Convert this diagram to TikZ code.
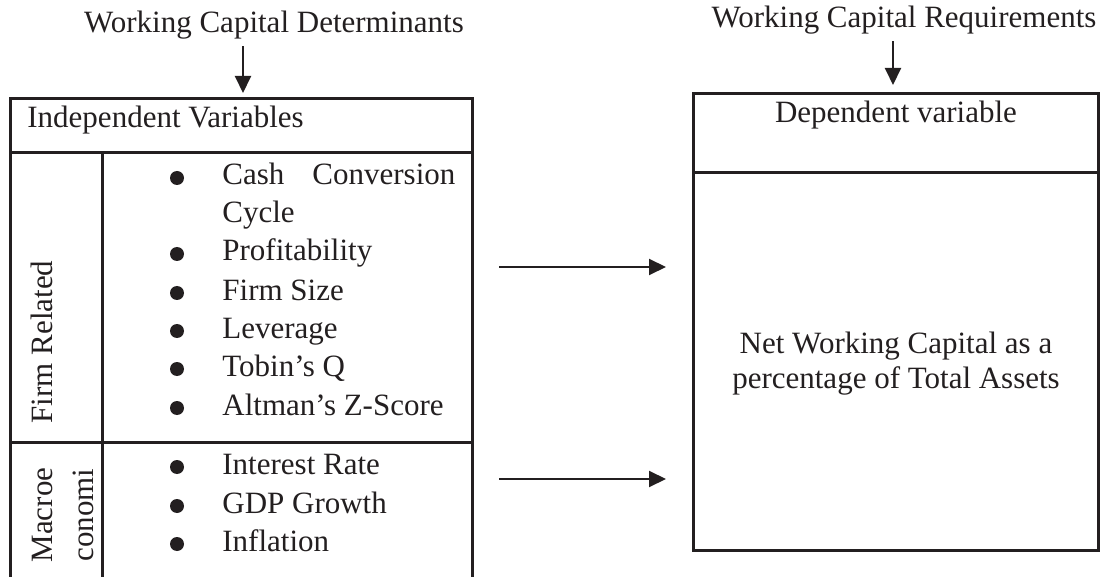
\documentclass[tikz,border=0pt]{standalone}
\usepackage{fontspec}
\setmainfont{Liberation Serif}
\usetikzlibrary{arrows.meta}
\definecolor{ink}{RGB}{35,31,32}
\tikzset{
	tablerule/.style={line width=1.5pt, draw=ink},
	flow/.style={line width=1pt, draw=ink, -{Triangle[length=8.5pt, width=8pt]}},
	txt/.style={text=ink, inner sep=0pt, font=\fontsize{15.5}{19}\selectfont},
	item/.style={txt, anchor=base west},
	dot/.style={circle, fill=ink, inner sep=0pt, minimum size=7pt},
	sidelabel/.style={txt, rotate=90, anchor=base}
}

\begin{document}
\begin{tikzpicture}[x=0.5pt, y=-0.5pt]
	\useasboundingbox (0,0) rectangle (1103,577);
	% titles
	\node[txt, anchor=base, inner sep=3pt] (det) at (274,33) {Working Capital Determinants};
	\node[txt, anchor=base, inner sep=3pt] (req) at (904,28) {Working Capital Requirements};
	\coordinate (detin) at (243,93);
	\coordinate (reqin) at (893,85);
	\draw[flow] (det.south -| detin) -- (detin);
	\draw[flow] (req.south -| reqin) -- (reqin);
	% left table
	\draw[tablerule] (10,577) |- (472,99) -- (472,577);
	\draw[tablerule] (10,153) -- (472,153);
	\draw[tablerule] (102,153) -- (102,577);
	\draw[tablerule] (10,442) -- (472,442);
	\node[item] (indep) at (27,128) {Independent Variables};
	\node[sidelabel] (firm) at (53,342) {Firm Related};
	\node[sidelabel] (macro1) at (53,515) {Macroe};
	\node[sidelabel] (macro2) at (93,515) {conomi};
	\node[dot] (fb0) at (177,178) {};
	\node[item] (fi0) at (222,185) {\makebox[116.5pt][s]{Cash Conversion}};
	\node[item] (fi0b) at (222,223) {Cycle};
	\foreach \ty/\txt [count=\i] in {261/Profitability, 300/Firm Size, 338/Leverage, 376/Tobin's Q, 415/Altman's Z-Score}{
		\node[dot] (fb\i) at (177,\ty-7) {};
		\node[item] (fi\i) at (222,\ty) {\txt};
	}
	\foreach \ty/\txt [count=\i] in {474/Interest Rate, 513/GDP Growth, 551/Inflation}{
		\node[dot] (mb\i) at (177,\ty-7) {};
		\node[item] (mi\i) at (222,\ty) {\txt};
	}
	% right box
	\draw[tablerule] (693,94) rectangle (1098,550);
	\draw[tablerule] (693,173) -- (1098,173);
	\node[txt, anchor=base] (dep) at (896,123) {Dependent variable};
	\node[txt, align=center, font=\fontsize{15.5}{17.5}\selectfont] (nwc) at (896,364) {Net Working Capital as a\\percentage of Total Assets};
	% links
	\coordinate (firmout) at (499,267);
	\coordinate (firmin) at (666,267);
	\coordinate (macroout) at (499,479);
	\coordinate (macroin) at (666,479);
	\draw[flow] (firmout) -- (firmin);
	\draw[flow] (macroout) -- (macroin);
\end{tikzpicture}
\end{document}
